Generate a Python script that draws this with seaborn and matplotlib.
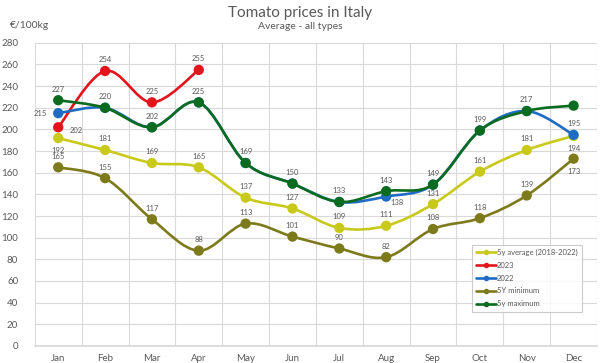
import numpy as np
import matplotlib
matplotlib.use("Agg")
import matplotlib.pyplot as plt
from matplotlib.path import Path
from matplotlib.patches import PathPatch
from matplotlib.lines import Line2D
import seaborn as sns

# Data
months = ['Jan', 'Feb', 'Mar', 'Apr', 'May', 'Jun', 'Jul', 'Aug', 'Sep', 'Oct', 'Nov', 'Dec']
avg_5y = [192, 181, 169, 165, 137, 127, 109, 111, 131, 161, 181, 194]
y2023 = [202, 254, 225, 255]
y2022 = [215, 220, 202, 225, 169, 150, 133, 138, 149, 199, 217, 195]
min_5y = [165, 155, 117, 88, 113, 101, 90, 82, 108, 118, 139, 173]
max_5y = [227, 220, 202, 225, 169, 150, 133, 143, 149, 199, 217, 222]

series = [
    ('5y average (2018-2022)', avg_5y, '#C9C91C'),
    ('2023', y2023, '#E3141B'),
    ('2022', y2022, '#1F6CC4'),
    ('5Y minimum', min_5y, '#7D7A1C'),
    ('5y maximum', max_5y, '#0B6B1E'),
]

# which labels are visible, and where they sit
shown = {'2022': [0, 7, 11], '5y maximum': list(range(11))}
placement = {('2023', 0): 'right', ('2022', 0): 'left', ('2022', 7): 'belowright',
             ('5y average (2018-2022)', 0): 'below',
             ('5y average (2018-2022)', 11): 'below', ('5Y minimum', 11): 'below'}
offsets = {'above': (0, 8, 'center'), 'below': (0, -9, 'center'),
           'right': (8, -2, 'left'), 'left': (-8, 0, 'right'),
           'belowright': (3, -4, 'left')}


def smooth_path(xs, ys):
    # Catmull-Rom style bezier like Excel smoothed lines
    pts = np.column_stack([xs, ys]).astype(float)
    n = len(pts)
    verts = [pts[0]]
    codes = [Path.MOVETO]
    for i in range(n - 1):
        p0 = pts[max(i - 1, 0)]
        p1 = pts[i]
        p2 = pts[i + 1]
        p3 = pts[min(i + 2, n - 1)]
        c1 = p1 + (p2 - p0) / 6
        c2 = p2 - (p3 - p1) / 6
        verts += [c1, c2, p2]
        codes += [Path.CURVE4] * 3
    return Path(verts, codes)


sns.set_theme(style='white')
plt.rcParams['font.family'] = ['Lato', 'DejaVu Sans']

fig = plt.figure(figsize=(6, 3.63), dpi=100)
ax = fig.add_axes([0.058, 0.047, 0.937, 0.835])

for z, (name, vals, color) in enumerate(series):
    x = np.arange(len(vals))
    ax.add_patch(PathPatch(smooth_path(x, vals), facecolor='none', edgecolor=color,
                           lw=1.9, zorder=3 + z, capstyle='round'))
    sns.scatterplot(x=x, y=vals, color=color, s=55, edgecolor='none', ax=ax,
                    zorder=3.5 + z, legend=False)
    idx = shown.get(name, range(len(vals)))
    for i in idx:
        dx, dy, ha = offsets[placement.get((name, i), 'above')]
        ax.annotate(str(vals[i]), (i, vals[i]), xytext=(dx, dy), textcoords='offset points',
                    ha=ha, va='center', fontsize=5.5, color='#595959', zorder=20)

ax.set_xlim(-0.5, 11.5)
ax.set_ylim(0, 280)
ax.set_yticks(range(0, 281, 20))
ax.set_xticks(range(12))
ax.set_xticklabels(months)
ax.set_xticks(np.arange(-0.5, 12, 1), minor=True)
ax.grid(axis='y', which='major', color='#D9D9D9', lw=0.8)
ax.grid(axis='x', which='minor', color='#D9D9D9', lw=0.8)
ax.set_axisbelow(True)
for s in ['top', 'left', 'right']:
    ax.spines[s].set_visible(False)
ax.spines['bottom'].set_color('#D9D9D9')
ax.tick_params(axis='both', which='both', length=0, labelsize=7, labelcolor='#595959')
ax.tick_params(axis='x', pad=6)
ax.tick_params(axis='y', pad=12)

handles = [Line2D([0], [0], color=c, lw=1.9, marker='o', markersize=3) for _, _, c in series]
leg = ax.legend(handles, [n for n, _, _ in series], loc='lower left',
                bbox_to_anchor=(0.77, 0.10), fontsize=5.5, frameon=True, fancybox=False,
                handlelength=2.6, handletextpad=0.1, labelspacing=0.75, borderpad=0.6,
                labelcolor='#595959')
leg.get_frame().set_edgecolor('#BFBFBF')
leg.get_frame().set_linewidth(0.8)
leg.set_zorder(30)

fig.text(0.5, 0.965, 'Tomato prices in Italy', ha='center', va='center', fontsize=11, color='#595959')
fig.text(0.5, 0.927, 'Average - all types', ha='center', va='center', fontsize=7.5, color='#595959')
fig.text(0.017, 0.93, '€/100kg', ha='left', va='center', fontsize=7.5, color='#595959')

fig.savefig('out.png', dpi=100, facecolor='white')
